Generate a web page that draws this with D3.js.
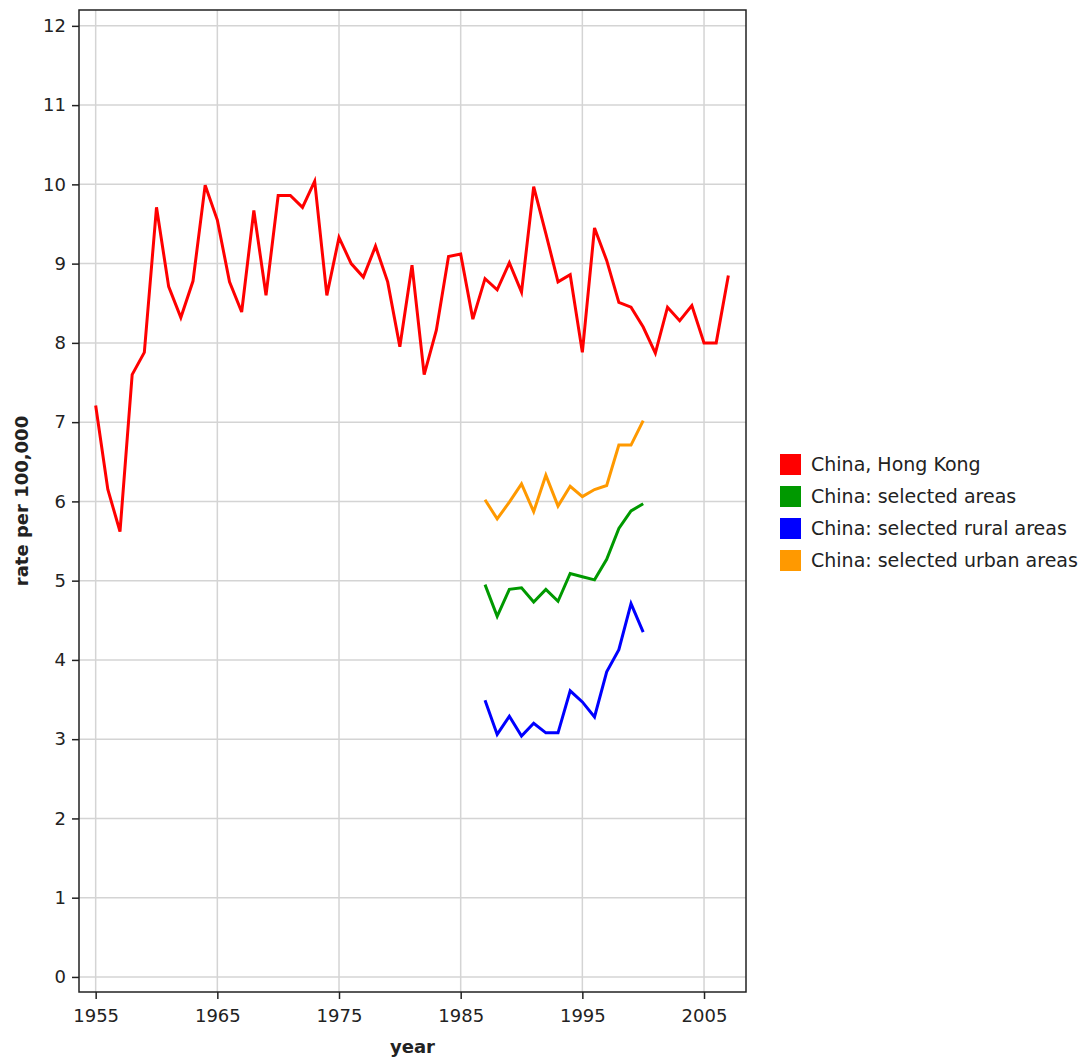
<!DOCTYPE html>
<html>
<head>
<meta charset="utf-8">
<script src="https://cdn.jsdelivr.net/npm/d3@7"></script>
<style>
  body { margin: 0; background: #fff; }
  svg { display: block; font-family: "DejaVu Sans", Verdana, sans-serif; }
  .grid line { stroke: #d4d4d4; stroke-width: 1.5; }
  .axis path { display: none; }
  .axis line { stroke: #222; stroke-width: 1.5; }
  .title { font-weight: bold; fill: #222; }
  .legend text { fill: #222; }
</style>
</head>
<body>
<svg id="chart" width="1083" height="1059"></svg>
<script>
'use strict';

var years = d3.range(1955, 2008);
var yearsChina = d3.range(1987, 2001);

var hongKong = [7.21, 6.15, 5.62, 7.60, 7.88, 9.71, 8.71, 8.32, 8.78, 9.99,
  9.55, 8.77, 8.39, 9.67, 8.60, 9.86, 9.86, 9.71, 10.04, 8.60,
  9.33, 9.00, 8.83, 9.22, 8.77, 7.95, 8.98, 7.60, 8.16, 9.09,
  9.12, 8.30, 8.81, 8.67, 9.01, 8.64, 9.97, 9.38, 8.77, 8.86,
  7.88, 9.45, 9.04, 8.51, 8.45, 8.20, 7.87, 8.45, 8.28, 8.47,
  8.00, 8.00, 8.85];
var selectedAreas = [4.95, 4.55, 4.89, 4.91, 4.73, 4.89, 4.74, 5.09, 5.05, 5.01, 5.27, 5.66, 5.88, 5.97];
var ruralAreas = [3.49, 3.06, 3.29, 3.04, 3.20, 3.08, 3.08, 3.61, 3.47, 3.28, 3.85, 4.13, 4.71, 4.35];
var urbanAreas = [6.02, 5.78, 5.99, 6.22, 5.87, 6.33, 5.94, 6.19, 6.06, 6.15, 6.20, 6.71, 6.71, 7.02];

var xTicks = [1955, 1965, 1975, 1985, 1995, 2005];
var yTicks = d3.range(0, 13);

var seriesNames = ['China, Hong Kong', 'China: selected areas', 'China: selected rural areas', 'China: selected urban areas'];
var seriesColors = ['#ff0000', '#009900', '#0000ff', '#ff9900'];

var series = [
  { name: seriesNames[0], color: seriesColors[0], x: years, y: hongKong },
  { name: seriesNames[1], color: seriesColors[1], x: yearsChina, y: selectedAreas },
  { name: seriesNames[2], color: seriesColors[2], x: yearsChina, y: ruralAreas },
  { name: seriesNames[3], color: seriesColors[3], x: yearsChina, y: urbanAreas }
];

var svg = d3.select('#chart');
var plot = { left: 79, right: 746, top: 10, bottom: 992 };

var x = d3.scaleLinear().domain([1953.63, 2008.45]).range([plot.left, plot.right]);
var y = d3.scaleLinear().domain([-0.19, 12.2]).range([plot.bottom, plot.top]);

// grid
var grid = svg.append('g').attr('class', 'grid');
grid.selectAll('.gx').data(xTicks).enter().append('line')
  .attr('x1', function(d){ return x(d); }).attr('x2', function(d){ return x(d); })
  .attr('y1', plot.top).attr('y2', plot.bottom);
grid.selectAll('.gy').data(yTicks).enter().append('line')
  .attr('y1', function(d){ return y(d); }).attr('y2', function(d){ return y(d); })
  .attr('x1', plot.left).attr('x2', plot.right);

// lines
var line = d3.line();
series.forEach(function(s){
  svg.append('path')
    .attr('d', line(s.x.map(function(v, i){ return [x(v), y(s.y[i])]; })))
    .attr('fill', 'none')
    .attr('stroke', s.color)
    .attr('stroke-width', 3)
    .attr('stroke-linejoin', 'miter');
});

// frame
svg.append('rect')
  .attr('x', plot.left).attr('y', plot.top)
  .attr('width', plot.right - plot.left).attr('height', plot.bottom - plot.top)
  .attr('fill', 'none').attr('stroke', '#222').attr('stroke-width', 1.5);

// axes
var xAxis = d3.axisBottom(x).tickValues(xTicks).tickFormat(d3.format('d')).tickSize(7).tickPadding(10);
svg.append('g').attr('class', 'axis')
  .attr('transform', 'translate(0,' + plot.bottom + ')')
  .call(xAxis)
  .attr('font-size', 18)
  .attr('font-family', null)
  .selectAll('text').attr('fill', '#222');

var yAxis = d3.axisLeft(y).tickValues(yTicks).tickFormat(d3.format('d')).tickSize(7).tickPadding(6);
svg.append('g').attr('class', 'axis')
  .attr('transform', 'translate(' + plot.left + ',0)')
  .call(yAxis)
  .attr('font-size', 18)
  .attr('font-family', null)
  .selectAll('text').attr('fill', '#222');

svg.append('text').attr('class', 'title')
  .attr('x', (plot.left + plot.right) / 2).attr('y', 1053)
  .attr('text-anchor', 'middle')
  .attr('font-size', 18)
  .text('year');

svg.append('text').attr('class', 'title')
  .attr('transform', 'translate(28,' + (plot.top + plot.bottom) / 2 + ') rotate(-90)')
  .attr('text-anchor', 'middle')
  .attr('font-size', 18)
  .text('rate per 100,000');

// legend
var legend = svg.append('g').attr('class', 'legend')
  .attr('transform', 'translate(780,454)');
var item = legend.selectAll('g').data(series).enter().append('g')
  .attr('transform', function(d, i){ return 'translate(0,' + i * 32 + ')'; });
item.append('rect')
  .attr('width', 21).attr('height', 21)
  .attr('fill', function(d){ return d.color; });
item.append('text')
  .attr('x', 31).attr('y', 17)
  .attr('font-size', 19)
  .text(function(d){ return d.name; });
</script>
</body>
</html>
